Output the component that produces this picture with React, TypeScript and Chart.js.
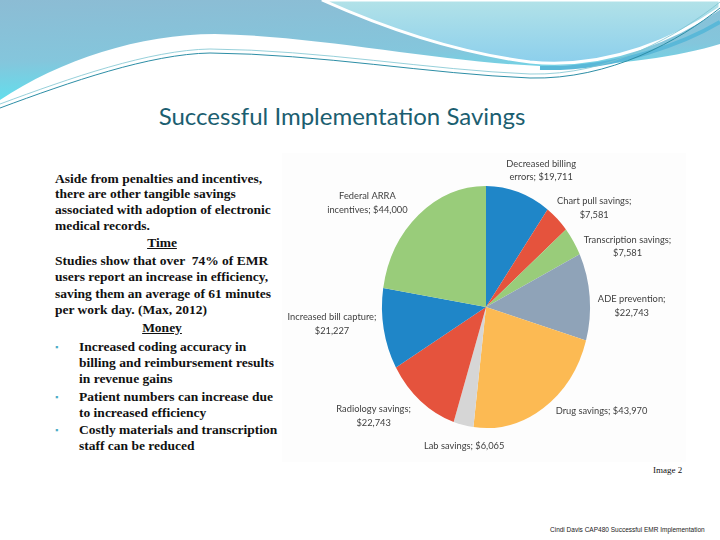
import React, { useEffect, useRef } from "react";
import { Chart, registerables } from "chart.js";

Chart.register(...registerables);

// ---- data ----
const categories = [
  "Decreased billing errors",
  "Chart pull savings",
  "Transcription savings",
  "ADE prevention",
  "Drug savings",
  "Lab savings",
  "Radiology savings",
  "Increased bill capture",
  "Federal ARRA incentives",
];
const savings = [19711, 7581, 7581, 22743, 43970, 6065, 22743, 21227, 44000];
const sliceColors = [
  "#1f86c8",
  "#e5533d",
  "#99cc7a",
  "#8fa3b8",
  "#fcba53",
  "#d6d6d6",
  "#e5533d",
  "#1f86c8",
  "#99cc7a",
];
// words on the first line of each label (0 = single line)
const labelBreaks = [2, 3, 2, 2, 0, 0, 2, 3, 2];

// ---- label placement (in units of the pie radii, from the pie centre) ----
const labelAnchors: [number, number][] = [
  [0.53, -1.13],
  [1.04, -0.82],
  [1.36, -0.5],
  [1.4, -0.01],
  [1.11, 0.86],
  [-0.21, 1.15],
  [-1.08, 0.9],
  [-1.48, 0.14],
  [-1.14, -0.86],
];
const SQUASH = 0.86;

const bodyLines: { t: string; y: number; kind?: string }[] = [
  { t: "Aside from penalties and incentives,", y: 179 },
  { t: "there are other tangible savings", y: 194 },
  { t: "associated with adoption of electronic", y: 210 },
  { t: "medical records.", y: 226 },
  { t: "Time", y: 243, kind: "head" },
  { t: "Studies show that over  74% of EMR", y: 261 },
  { t: "users report an increase in efficiency,", y: 277 },
  { t: "saving them an average of 61 minutes", y: 294 },
  { t: "per work day. (Max, 2012)", y: 310 },
  { t: "Money", y: 328, kind: "head" },
  { t: "Increased coding accuracy in", y: 347, kind: "bullet" },
  { t: "billing and reimbursement results", y: 363, kind: "cont" },
  { t: "in revenue gains", y: 379, kind: "cont" },
  { t: "Patient numbers can increase due", y: 397, kind: "bullet" },
  { t: "to increased efficiency", y: 413, kind: "cont" },
  { t: "Costly materials and transcription", y: 430, kind: "bullet" },
  { t: "staff can be reduced", y: 446, kind: "cont" },
];

function labelLines(i: number): string[] {
  const words = `${categories[i]}; $${savings[i].toLocaleString("en-US")}`.split(" ");
  const b = labelBreaks[i];
  if (!b) return [words.join(" ")];
  return [words.slice(0, b).join(" "), words.slice(b).join(" ")];
}

const squashPlugin = {
  id: "squash",
  beforeDatasetsDraw(chart: any) {
    const arc = chart.getDatasetMeta(0).data[0];
    const ctx = chart.ctx;
    ctx.save();
    ctx.translate(arc.x, arc.y);
    ctx.scale(SQUASH, 1);
    ctx.translate(-arc.x, -arc.y);
  },
  afterDatasetsDraw(chart: any) {
    chart.ctx.restore();
  },
};

const labelPlugin = {
  id: "pieLabels",
  afterDraw(chart: any) {
    const ctx = chart.ctx;
    const meta = chart.getDatasetMeta(0);
    ctx.save();
    ctx.font = "9.3px Lato";
    ctx.fillStyle = "#404040";
    ctx.textAlign = "center";
    ctx.textBaseline = "middle";
    meta.data.forEach((arc: any, i: number) => {
      const rx = arc.outerRadius * SQUASH;
      const ry = arc.outerRadius;
      const cx = arc.x + labelAnchors[i][0] * rx;
      const cy = arc.y + labelAnchors[i][1] * ry;
      const lines = labelLines(i);
      const lh = 13.5;
      lines.forEach((ln, k) => {
        ctx.fillText(ln, cx, cy + (k - (lines.length - 1) / 2) * lh);
      });
    });
    ctx.restore();
  },
};

function PieChart() {
  const ref = useRef<HTMLCanvasElement>(null);
  useEffect(() => {
    if (!ref.current) return;
    const chart = new Chart(ref.current, {
      type: "pie",
      data: {
        labels: categories,
        datasets: [
          {
            data: savings,
            backgroundColor: sliceColors,
            borderWidth: 0,
          },
        ],
      },
      options: {
        animation: false,
        responsive: false,
        devicePixelRatio: 1,
        layout: { padding: { top: 33, bottom: 34, left: 4, right: 0 } },
        plugins: {
          legend: { display: false },
          tooltip: { enabled: false },
        },
      },
      plugins: [squashPlugin, labelPlugin],
    });
    return () => chart.destroy();
  }, []);
  return (
    <canvas
      ref={ref}
      width={404}
      height={309}
      style={{ position: "absolute", left: 282, top: 153, width: 404, height: 309, background: "#fdfdfd" }}
    />
  );
}

function TopWave() {
  return (
    <svg width={720} height={120} style={{ position: "absolute", left: 0, top: 0 }}>
      <defs>
        <linearGradient id="bg1" x1="0" y1="0" x2="0.2" y2="1">
          <stop offset="0" stopColor="#8cbcd4" />
          <stop offset="0.6" stopColor="#84c6dc" />
          <stop offset="1" stopColor="#5fe0ee" />
        </linearGradient>
        <linearGradient id="bub" x1="0" y1="0" x2="0" y2="1">
          <stop offset="0" stopColor="#b2e2e8" />
          <stop offset="1" stopColor="#8ccfec" />
        </linearGradient>
      </defs>
      <path
        d="M0,0 H720 V44 C680,56 620,66 540,66 C440,62 320,36 215,34 C140,34 60,60 0,100 Z"
        fill="url(#bg1)"
      />
      <path
        d="M322,0 C380,26 450,52 530,62 C610,70 680,36 720,8 V0 Z"
        fill="url(#bub)"
        stroke="#ffffff"
        strokeWidth={3}
      />
      <path d="M540,68 C620,70 690,40 720,22" fill="none" stroke="#5ab8d8" strokeWidth={4} />
      <path
        d="M0,108 C70,82 150,54 210,53 C320,54 430,74 530,78 C610,80 680,40 720,8"
        fill="none"
        stroke="#2d8ea6"
        strokeWidth={1}
      />
      <path
        d="M0,104 C70,78 150,50 210,49 C320,50 430,70 530,74 C610,76 680,34 720,2"
        fill="none"
        stroke="#7cc4d0"
        strokeWidth={0.8}
      />
    </svg>
  );
}

export default function App() {
  return (
    <div
      style={{
        position: "fixed",
        left: 0,
        top: 0,
        width: 720,
        height: 540,
        background: "#ffffff",
        overflow: "hidden",
      }}
    >
      <TopWave />
      <div
        style={{
          position: "absolute",
          left: 0,
          width: 684,
          top: 101,
          textAlign: "center",
          fontFamily: "Lato",
          fontSize: 24,
          lineHeight: "30px",
          color: "#1b5e70",
        }}
      >
        Successful Implementation Savings
      </div>
      {bodyLines.map((l, i) => {
        const left = l.kind === "bullet" || l.kind === "cont" ? 79 : 55;
        const common: React.CSSProperties = {
          position: "absolute",
          top: l.y - 9,
          fontFamily: "Liberation Serif",
          fontSize: 13.5,
          fontWeight: "bold",
          lineHeight: "18px",
          color: "#111111",
          whiteSpace: "pre",
        };
        if (l.kind === "head") {
          return (
            <div key={i} style={{ ...common, left: 55, width: 214, textAlign: "center", textDecoration: "underline" }}>
              {l.t}
            </div>
          );
        }
        return (
          <React.Fragment key={i}>
            {l.kind === "bullet" && (
              <div style={{ ...common, left: 55, color: "#4bacc6", fontSize: 9 }}>▪</div>
            )}
            <div style={{ ...common, left }}>{l.t}</div>
          </React.Fragment>
        );
      })}
      <PieChart />
      <div
        style={{
          position: "absolute",
          left: 653,
          top: 465,
          fontFamily: "Liberation Serif",
          fontSize: 9,
          color: "#111",
        }}
      >
        Image 2
      </div>
      <div
        style={{
          position: "absolute",
          left: 550,
          top: 526,
          fontFamily: "Liberation Sans",
          fontSize: 6.5,
          color: "#222",
          whiteSpace: "nowrap",
        }}
      >
        Cindi Davis CAP480 Successful EMR Implementation
      </div>
    </div>
  );
}
